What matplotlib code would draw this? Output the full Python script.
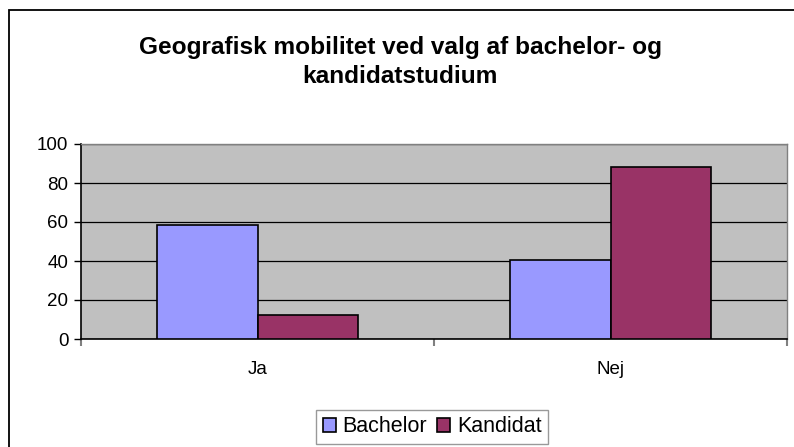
import matplotlib
matplotlib.use("Agg")
import matplotlib.pyplot as plt
from matplotlib.patches import Rectangle
import numpy as np

categories = ["Ja", "Nej"]
series_names = ["Bachelor", "Kandidat"]
bachelor = [58.6, 40.6]
kandidat = [12.2, 88.0]
yticks = [0, 20, 40, 60, 80, 100]

plt.rcParams['font.family'] = ['Liberation Sans', 'DejaVu Sans']

W, H = 794, 447
fig = plt.figure(figsize=(W/100, H/100), dpi=100)

# outer chart frame
fig.patches.append(Rectangle((9/W, -0.1), 1.2, 1.1 - 10/H, transform=fig.transFigure,
                             fill=False, edgecolor='black', linewidth=1.3, zorder=0))

ax = fig.add_axes([81/W, 1 - 339/H, (787-81)/W, (339-144)/H])
ax.set_facecolor('#C0C0C0')

x = np.arange(len(categories))
bw = 0.286
ax.bar(x - bw/2, bachelor, bw, color='#9999FF', edgecolor='black', linewidth=1.2,
       label=series_names[0], zorder=3)
ax.bar(x + bw/2, kandidat, bw, color='#993366', edgecolor='black', linewidth=1.2,
       label=series_names[1], zorder=3)

ax.set_xlim(-0.5, len(categories) - 0.5)
ax.set_ylim(0, 100)
ax.set_yticks(yticks)
ax.set_yticklabels([str(v) for v in yticks], fontsize=13.5)
ax.yaxis.grid(True, color='black', linewidth=0.9, zorder=1)
ax.set_axisbelow(True)

ax.set_xticks(x)
ax.set_xticklabels(categories, fontsize=13.5)
ax.tick_params(axis='x', length=0, pad=16)
ax.set_xticks(np.arange(-0.5, len(categories)), minor=True)
ax.tick_params(axis='x', which='minor', length=5, color='#808080', width=1.5, direction='out')
ax.tick_params(axis='y', length=5, width=1, direction='out', pad=4)

for s in ['top', 'right']:
    ax.spines[s].set_color('#808080')
    ax.spines[s].set_linewidth(1)
for s in ['left', 'bottom']:
    ax.spines[s].set_color('black')
    ax.spines[s].set_linewidth(1.2)

fig.text(0.504, 1 - 62/H, "Geografisk mobilitet ved valg af bachelor- og\nkandidatstudium",
         ha='center', va='center', fontsize=17.6, fontweight='bold', linespacing=1.3)

leg = fig.legend(loc='center', bbox_to_anchor=(432/W, 1 - 427/H), ncol=2, fontsize=15.5,
                 frameon=True, fancybox=False, edgecolor='#808080', handlelength=0.6,
                 handleheight=0.6, handletextpad=0.3, columnspacing=0.5, borderpad=0.3)
leg.get_frame().set_linewidth(1)

fig.savefig("out.png", dpi=100)
